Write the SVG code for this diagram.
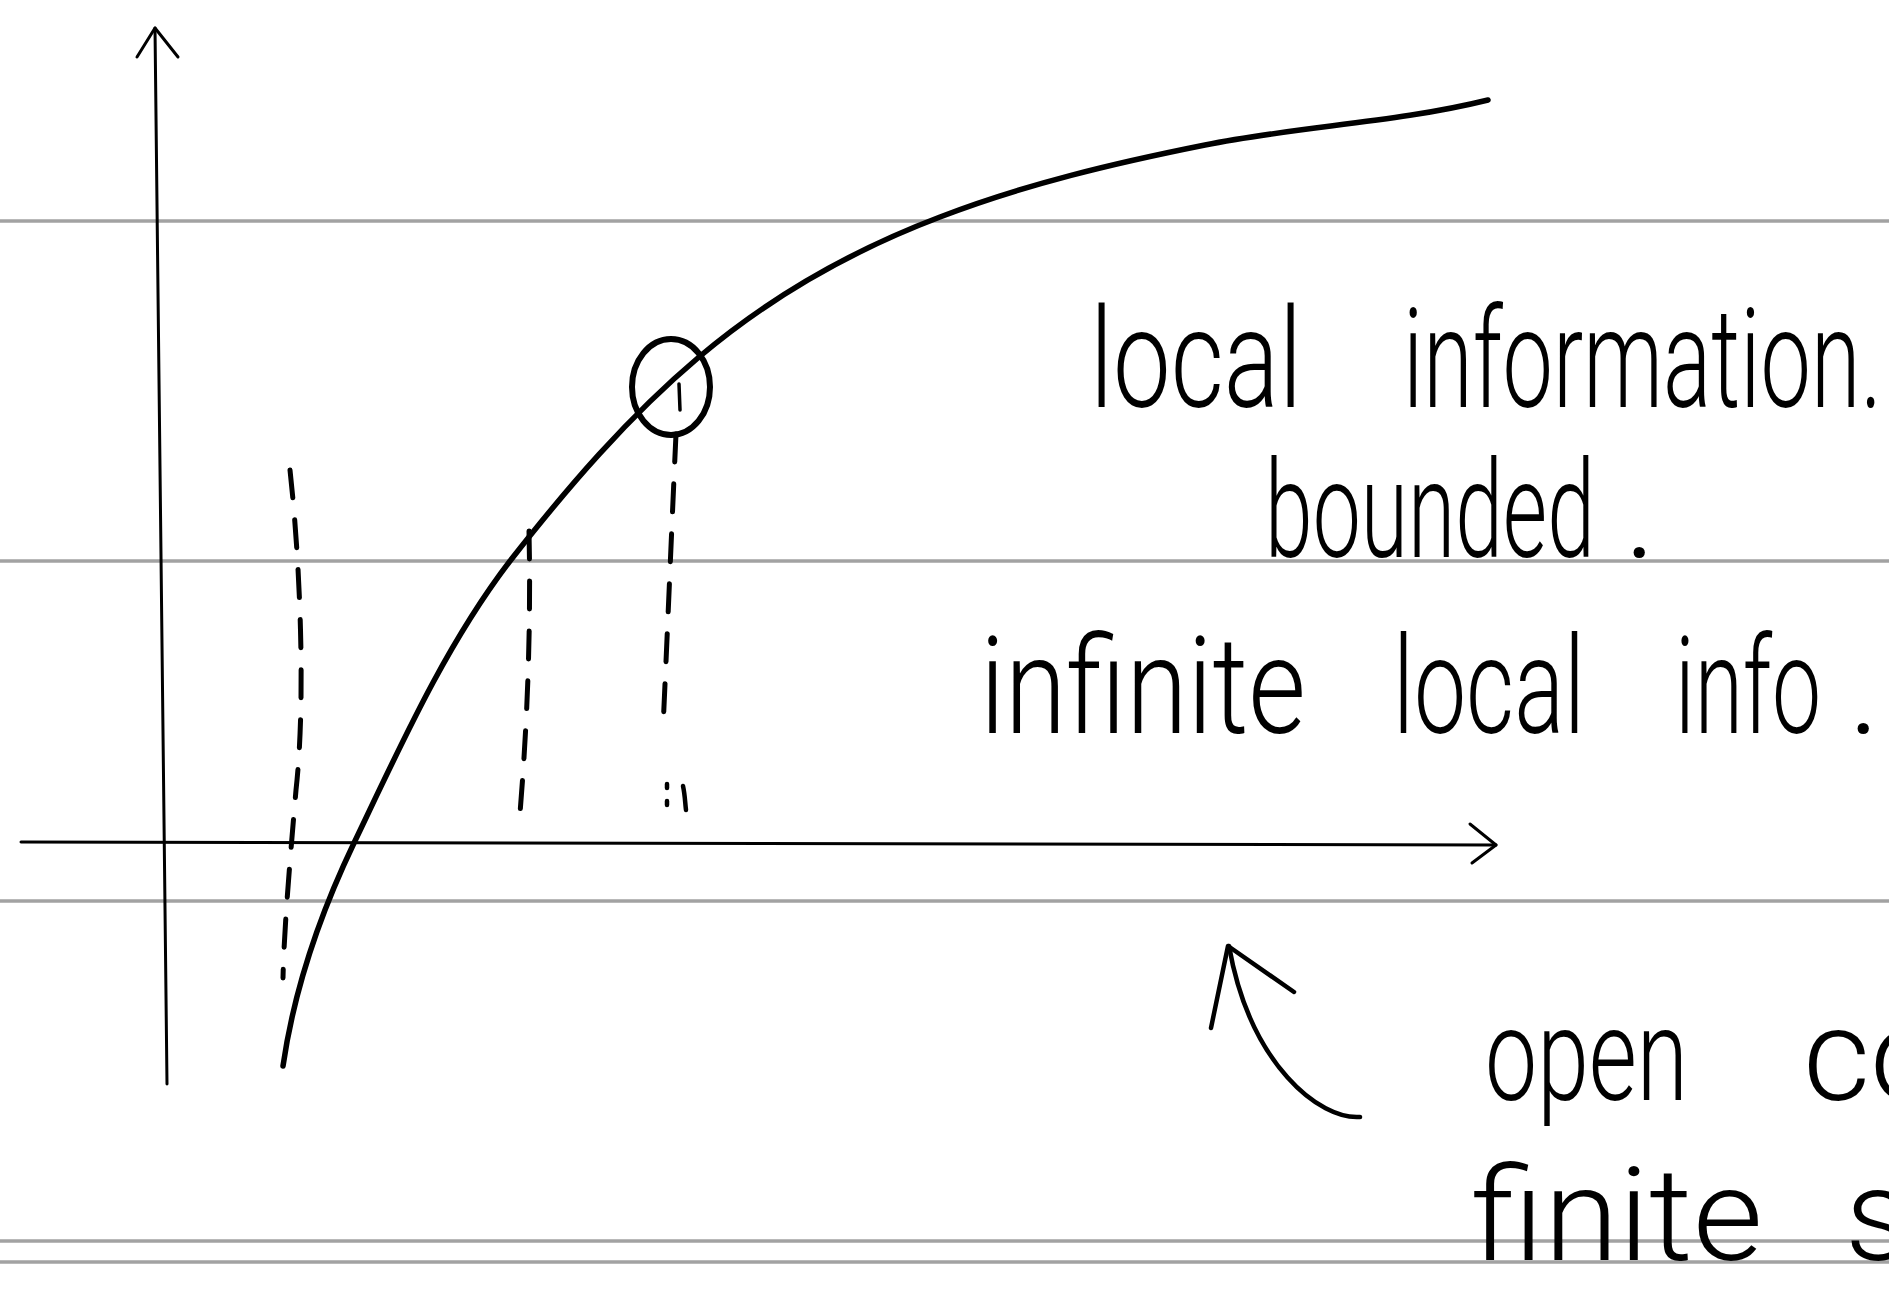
<svg xmlns="http://www.w3.org/2000/svg" width="1889" height="1309" viewBox="0 0 1889 1309">
<style>
.rule{stroke:#a2a2a2;stroke-width:3.5;fill:none}
.ink{stroke:#000;fill:none;stroke-linecap:round;stroke-linejoin:round}
.axis{stroke-width:3}
.curve{stroke-width:5.5}
.dash{stroke-width:5;stroke-dasharray:28 22}
.hand{font-family:Roboto,"Liberation Sans",sans-serif;font-weight:300;fill:#000}
</style>
<rect width="1889" height="1309" fill="#fff"/>
<g id="ruled-lines">
<line class="rule" x1="0" y1="221" x2="1889" y2="221"/>
<line class="rule" x1="0" y1="561" x2="1889" y2="561"/>
<line class="rule" x1="0" y1="901" x2="1889" y2="901"/>
<line class="rule" x1="0" y1="1241" x2="1889" y2="1241"/>
<line class="rule" x1="0" y1="1262" x2="1889" y2="1262"/>
</g>
<g id="connectors">
<g id="y-axis">
<path class="ink axis" d="M167,1084 L155,28"/>
<path class="ink axis" d="M137,57 L155,28 L178,57"/>
</g>
<g id="x-axis">
<path class="ink axis" d="M21,842 L1496,845"/>
<path class="ink axis" d="M1470,824 L1496,845 L1472,863"/>
</g>
<path id="curve" class="ink curve" d="M283,1066 C294,990 321,912 354,843 C400,747 445,646 510,561 C567,488 628,417 699,357 C770,297 853,250 940,217 C1026,184 1115,163 1205,145 C1299,126 1395,123 1488,100"/>
<path id="dash-left" class="ink dash" d="M290,470 C300,560 306,700 296,790 C290,860 284,930 283,978"/>
<path id="dash-mid" class="ink dash" d="M529,531 C531,620 528,720 519,825"/>
<path id="dash-right" class="ink dash" d="M676,434 C672,520 668,620 663,728"/>
<g id="dash-right-marks">
<path class="ink" stroke-width="4.5" d="M667,784 L667,788 M667,801 L667,805 M683,786 C685,795 685,802 686,810"/>
</g>
<g id="pointer-arrow">
<path class="ink" stroke-width="4.5" d="M1360,1117 C1320,1120 1250,1065 1229,946"/>
<path class="ink" stroke-width="4.5" d="M1211,1028 L1228,946 L1294,992"/>
</g>
</g>
<g id="point-circle">
<ellipse class="ink" stroke-width="6" cx="671" cy="387" rx="39" ry="48"/>
<path class="ink" stroke-width="3.5" d="M679,384 L680,410"/>
</g>
<g id="label-local-information">
<text class="hand" font-size="140" y="407"><tspan x="1090" textLength="212" lengthAdjust="spacingAndGlyphs">local</tspan><tspan x="1403" textLength="479" lengthAdjust="spacingAndGlyphs">information.</tspan></text>
</g>
<g id="label-bounded">
<text class="hand" font-size="135" y="557"><tspan x="1265" textLength="330" lengthAdjust="spacingAndGlyphs">bounded</tspan><tspan x="1624">.</tspan></text>
</g>
<g id="label-infinite">
<text class="hand" font-size="135" y="733"><tspan x="980" textLength="326" lengthAdjust="spacingAndGlyphs">infinite</tspan><tspan x="1393" textLength="192" lengthAdjust="spacingAndGlyphs">local</tspan><tspan x="1675" textLength="146" lengthAdjust="spacingAndGlyphs">info</tspan><tspan x="1848">.</tspan></text>
</g>
<g id="label-open">
<text class="hand" font-size="130" y="1100"><tspan x="1485" textLength="203" lengthAdjust="spacingAndGlyphs">open</tspan><tspan x="1803">co</tspan></text>
</g>
<g id="label-finite">
<text class="hand" font-size="130" y="1260"><tspan x="1471" textLength="292" lengthAdjust="spacingAndGlyphs">finite</tspan><tspan x="1845">s</tspan></text>
</g>
</svg>
